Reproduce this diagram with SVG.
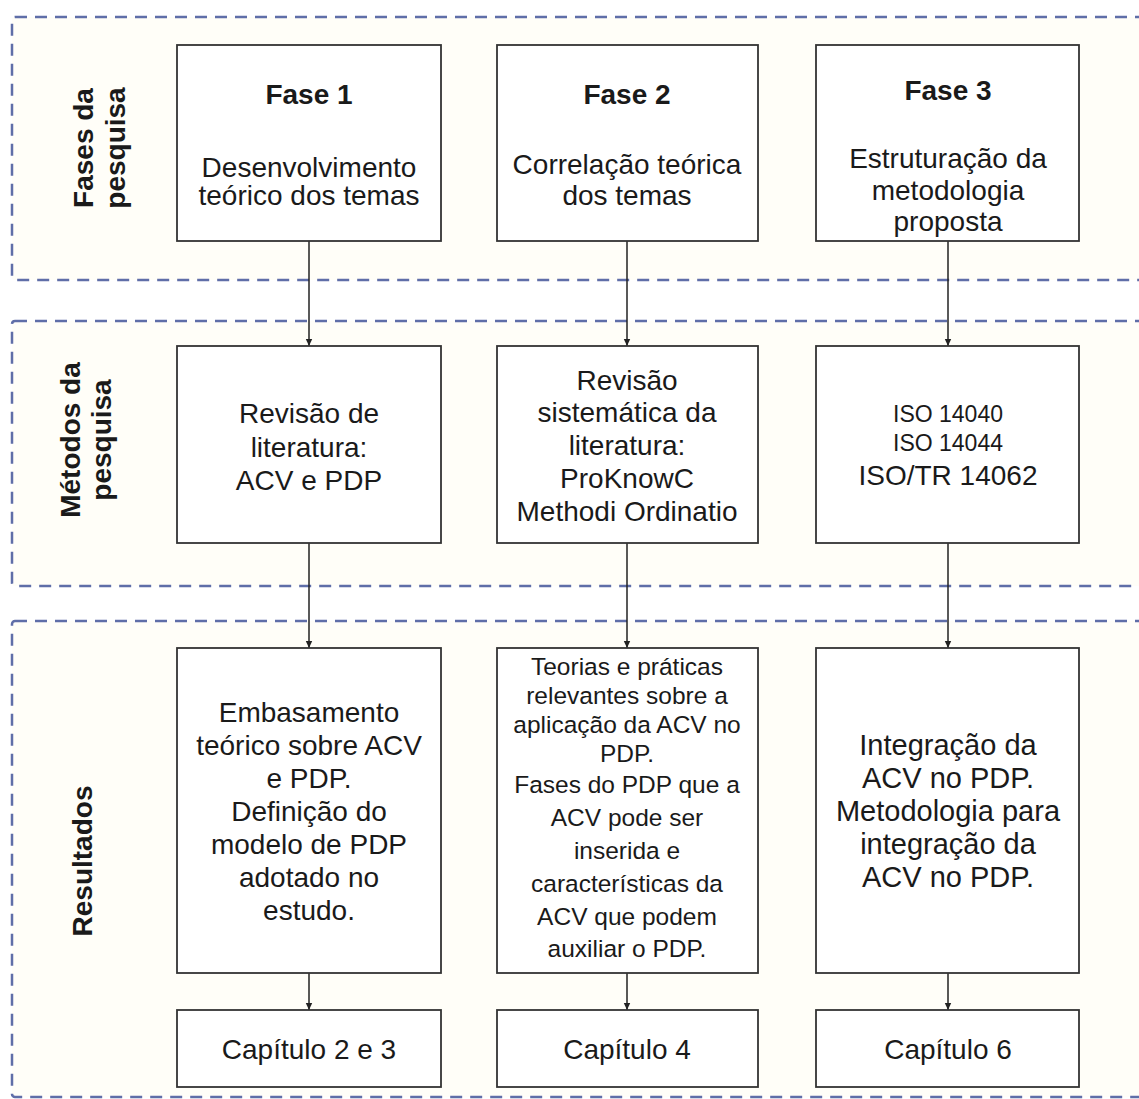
<svg xmlns="http://www.w3.org/2000/svg" width="1139" height="1099" viewBox="0 0 1139 1099">
  <style>
    .band { fill: #fffef8; stroke: #5f6ea8; stroke-width: 2.5; stroke-dasharray: 12 8; }
    .box { fill: #ffffff; stroke: #333333; stroke-width: 1.8; }
    .t { font-family: "Liberation Sans", Arial, sans-serif; fill: #1a1a1a; text-anchor: middle; }
    .b { font-weight: bold; }
    .edge { stroke: #222222; stroke-width: 1.5; fill: none; marker-end: url(#arrow); }
  </style>
  <defs>
    <marker id="arrow" markerWidth="8" markerHeight="8" refX="7" refY="4" orient="auto" markerUnits="userSpaceOnUse">
      <path d="M0,0.8 L7,4 L0,7.2 Z" fill="#222222"/>
    </marker>
  </defs>
  <rect width="1139" height="1099" fill="#ffffff"/>

  <!-- horizontal bands -->
  <g id="band-fases">
    <rect class="band" x="12" y="17" width="1200" height="263" rx="3"/>
    <g transform="translate(93,148) rotate(-90)">
      <text class="t b" x="0" y="0" font-size="28">Fases da</text>
      <text class="t b" x="0" y="32" font-size="28">pesquisa</text>
    </g>
  </g>
  <g id="band-metodos">
    <rect class="band" x="12" y="321" width="1200" height="265" rx="3"/>
    <g transform="translate(80,440) rotate(-90)">
      <text class="t b" x="0" y="0" font-size="28">Métodos da</text>
      <text class="t b" x="0" y="31" font-size="28">pesquisa</text>
    </g>
  </g>
  <g id="band-resultados">
    <rect class="band" x="12" y="621" width="1200" height="476" rx="3"/>
    <g transform="translate(92,861) rotate(-90)">
      <text class="t b" x="0" y="0" font-size="28">Resultados</text>
    </g>
  </g>

  <!-- connectors -->
  <g id="connectors">
    <line class="edge" x1="309" y1="241" x2="309" y2="346"/>
    <line class="edge" x1="627" y1="241" x2="627" y2="346"/>
    <line class="edge" x1="948" y1="241" x2="948" y2="346"/>
    <line class="edge" x1="309" y1="543" x2="309" y2="648"/>
    <line class="edge" x1="627" y1="543" x2="627" y2="648"/>
    <line class="edge" x1="948" y1="543" x2="948" y2="648"/>
    <line class="edge" x1="309" y1="973" x2="309" y2="1010"/>
    <line class="edge" x1="627" y1="973" x2="627" y2="1010"/>
    <line class="edge" x1="948" y1="973" x2="948" y2="1010"/>
  </g>

  <!-- row 1: phases -->
  <g id="fase1">
    <rect class="box" x="177" y="45" width="264" height="196"/>
    <text class="t b" x="309" y="104" font-size="28">Fase 1</text>
    <text class="t" x="309" y="177" font-size="28">Desenvolvimento</text>
    <text class="t" x="309" y="205" font-size="28">teórico dos temas</text>
  </g>
  <g id="fase2">
    <rect class="box" x="497" y="45" width="261" height="196"/>
    <text class="t b" x="627" y="104" font-size="28">Fase 2</text>
    <text class="t" x="627" y="174" font-size="28">Correlação teórica</text>
    <text class="t" x="627" y="205" font-size="28">dos temas</text>
  </g>
  <g id="fase3">
    <rect class="box" x="816" y="45" width="263" height="196"/>
    <text class="t b" x="948" y="100" font-size="28">Fase 3</text>
    <text class="t" x="948" y="168" font-size="28">Estruturação da</text>
    <text class="t" x="948" y="200" font-size="28">metodologia</text>
    <text class="t" x="948" y="231" font-size="28">proposta</text>
  </g>

  <!-- row 2: methods -->
  <g id="metodo1">
    <rect class="box" x="177" y="346" width="264" height="197"/>
    <text class="t" x="309" y="423" font-size="28">Revisão de</text>
    <text class="t" x="309" y="457" font-size="28">literatura:</text>
    <text class="t" x="309" y="490" font-size="28">ACV e PDP</text>
  </g>
  <g id="metodo2">
    <rect class="box" x="497" y="346" width="261" height="197"/>
    <text class="t" x="627" y="390" font-size="28">Revisão</text>
    <text class="t" x="627" y="422" font-size="28">sistemática da</text>
    <text class="t" x="627" y="455" font-size="28">literatura:</text>
    <text class="t" x="627" y="488" font-size="28">ProKnowC</text>
    <text class="t" x="627" y="521" font-size="28">Methodi Ordinatio</text>
  </g>
  <g id="metodo3">
    <rect class="box" x="816" y="346" width="263" height="197"/>
    <text class="t" x="948" y="422" font-size="23">ISO 14040</text>
    <text class="t" x="948" y="451" font-size="23">ISO 14044</text>
    <text class="t" x="948" y="485" font-size="28">ISO/TR 14062</text>
  </g>

  <!-- row 3: results -->
  <g id="resultado1">
    <rect class="box" x="177" y="648" width="264" height="325"/>
    <text class="t" x="309" y="722" font-size="28">Embasamento</text>
    <text class="t" x="309" y="755" font-size="28">teórico sobre ACV</text>
    <text class="t" x="309" y="788" font-size="28">e PDP.</text>
    <text class="t" x="309" y="821" font-size="28">Definição do</text>
    <text class="t" x="309" y="854" font-size="28">modelo de PDP</text>
    <text class="t" x="309" y="887" font-size="28">adotado no</text>
    <text class="t" x="309" y="920" font-size="28">estudo.</text>
  </g>
  <g id="resultado2">
    <rect class="box" x="497" y="648" width="261" height="325"/>
    <text class="t" x="627" y="675" font-size="24.5">Teorias e práticas</text>
    <text class="t" x="627" y="704" font-size="24.5">relevantes sobre a</text>
    <text class="t" x="627" y="733" font-size="24.5">aplicação da ACV no</text>
    <text class="t" x="627" y="762" font-size="24.5">PDP.</text>
    <text class="t" x="627" y="793" font-size="24.5">Fases do PDP que a</text>
    <text class="t" x="627" y="826" font-size="24.5">ACV pode ser</text>
    <text class="t" x="627" y="859" font-size="24.5">inserida e</text>
    <text class="t" x="627" y="892" font-size="24.5">características da</text>
    <text class="t" x="627" y="925" font-size="24.5">ACV que podem</text>
    <text class="t" x="627" y="957" font-size="24.5">auxiliar o PDP.</text>
  </g>
  <g id="resultado3">
    <rect class="box" x="816" y="648" width="263" height="325"/>
    <text class="t" x="948" y="755" font-size="29">Integração da</text>
    <text class="t" x="948" y="788" font-size="29">ACV no PDP.</text>
    <text class="t" x="948" y="821" font-size="29">Metodologia para</text>
    <text class="t" x="948" y="854" font-size="29">integração da</text>
    <text class="t" x="948" y="887" font-size="29">ACV no PDP.</text>
  </g>

  <!-- chapter boxes -->
  <g id="capitulo1">
    <rect class="box" x="177" y="1010" width="264" height="77"/>
    <text class="t" x="309" y="1059" font-size="28">Capítulo 2 e 3</text>
  </g>
  <g id="capitulo2">
    <rect class="box" x="497" y="1010" width="261" height="77"/>
    <text class="t" x="627" y="1059" font-size="28">Capítulo 4</text>
  </g>
  <g id="capitulo3">
    <rect class="box" x="816" y="1010" width="263" height="77"/>
    <text class="t" x="948" y="1059" font-size="28">Capítulo 6</text>
  </g>
</svg>
